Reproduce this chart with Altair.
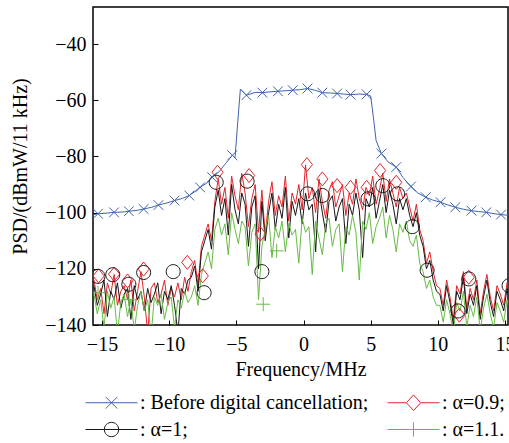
import altair as alt
import pandas as pd

# ---------------- data ----------------
S_BLUE = "Before digital cancellation;"
S_RED = "α=0.9;"
S_BLACK = "α=1;"
S_GREEN = "α=1.1."
series_names = [S_BLUE, S_RED, S_BLACK, S_GREEN]
series_colors = ["#3f63ae", "#e3242b", "#161616", "#66bb44"]

blue_x = [-15.7, -15.3, -14.7, -14.1, -13.5, -13.0, -12.4, -11.9, -11.3, -10.8,
          -10.2, -9.6, -9.0, -8.5, -8.1, -7.7, -7.2, -6.8, -6.3, -5.8,
          -5.3, -5.1, -4.9, -4.7, -4.25, -3.6, -3.06, -2.5, -1.9, -1.3,
          -0.8, -0.2, 0.3, 0.9, 1.4, 2.0, 2.5, 3.0, 3.5, 4.1,
          4.7, 5.0, 5.2, 5.4, 5.8, 6.3, 6.9, 7.4, 8.0, 8.5,
          9.1, 9.6, 10.2, 10.7, 11.3, 11.9, 12.5, 13.0, 13.6, 14.1,
          14.7, 15.4]
blue_y = [-100.8, -100.4, -100.2, -99.9, -99.8, -99.5, -99.2, -98.7, -98.1, -97.3,
          -96.6, -95.7, -94.9, -93.9, -92.5, -91, -89.5, -87.4, -85.5, -82.5,
          -79.6, -80.5, -68, -56, -58.2, -57.2, -57.3, -57, -56.8, -56.6,
          -56.4, -56.2, -55.8, -56.5, -57.3, -57.4, -57.6, -57.8, -58, -57.8,
          -57.9, -58.5, -66, -74.3, -79, -82, -83.8, -87.5, -90.7, -93,
          -94.5, -95.5, -96.3, -97.2, -98.1, -98.8, -99.3, -99.6, -99.9, -100.3,
          -100.7, -101]

# noisy spectra sampled every 0.25 MHz starting at -15.6 MHz
FREQ_START = -15.6
FREQ_STEP = 0.25

red_y = [
    -124, -131, -127, -136, -125, -129, -122, -133, -128, -126, -131, -124, -135, -128, -121,
    -130, -143, -127, -125, -132, -129, -124, -133, -127, -130, -125, -131, -123, -128,
    -121, -117, -126, -112, -108, -104, -110, -96,
    -88, -97, -91, -102, -87, -94, -99, -86,
    -93, -105, -95, -90, -107, -92, -108, -96,
    -89, -101, -94, -98, -87, -103, -93, -97,
    -90, -99, -83, -95, -91, -100, -88, -96,
    -102, -92, -89, -98, -94, -90, -101, -93,
    -97, -88, -95, -99, -91, -94, -87, -97,
    -92, -86, -96, -88, -93, -98, -91, -95,
    -93, -98, -103, -97, -106, -110, -118, -114, -121, -126,
    -127, -133, -124, -130, -138, -126, -129, -121, -134, -127, -131,
    -124, -136, -128, -122, -130, -135, -126, -129, -133, -125, -131]

black_y = [
    -126, -133, -129, -124, -137, -128, -131, -125, -134, -129, -127, -138, -126, -131, -128,
    -135, -127, -132, -129, -125, -136, -128, -131, -126, -133, -143, -127, -129, -124,
    -123, -119, -128, -114, -110, -106, -113, -98,
    -92, -101, -95, -108, -90, -99, -104, -93,
    -97, -112, -98, -94, -120, -96, -110, -100,
    -93, -106, -97, -102, -91, -109, -96, -101,
    -95, -104, -93, -99, -97, -114, -92, -100,
    -107, -96, -94, -103, -98, -95, -111, -97,
    -101, -93, -99, -116, -95, -98, -91, -102,
    -96, -90, -100, -92, -97, -104, -95, -99,
    -95, -101, -105, -100, -108, -112, -120, -117, -124, -128,
    -129, -135, -126, -132, -140, -128, -131, -123, -136, -129, -133,
    -126, -138, -130, -124, -132, -137, -128, -131, -135, -127, -133]

green_y = [
    -129, -136, -131, -141, -128, -134, -130, -143, -132, -129, -137, -131, -142, -133, -128,
    -135, -131, -144, -130, -133, -129, -138, -132, -130, -141, -131, -134, -128, -132,
    -130, -126, -133, -122, -118, -114, -120, -106,
    -102, -108, -104, -115, -100, -106, -111, -103,
    -105, -119, -107, -104, -131, -112, -106, -101,
    -116, -105, -109, -103, -114, -104, -108, -106,
    -118, -102, -107, -105, -122, -103, -109, -115,
    -104, -102, -112, -106, -104, -121, -105, -108,
    -101, -107, -124, -103, -106, -100, -111, -105,
    -102, -98, -109, -101, -106, -114, -104, -107,
    -103, -110, -112, -108, -118, -121, -127, -124, -130, -133,
    -133, -139, -131, -136, -143, -132, -135, -128, -141, -133, -137,
    -130, -142, -134, -129, -136, -141, -132, -135, -139, -131, -137]

# marker positions
blue_mx = [-15.3, -14.1, -13.0, -11.9, -10.8, -9.6, -8.5, -7.7, -6.8, -5.3,
           -4.25, -3.06, -1.9, -0.8, 0.3, 1.4, 2.5, 3.5, 4.7, 5.8,
           6.9, 8.0, 9.1, 10.2, 11.3, 12.5, 13.6, 14.7]
blue_my = [-100.4, -99.9, -99.5, -98.7, -97.3, -95.7, -93.9, -91, -87.4, -79.6,
           -58.2, -57.3, -56.8, -56.4, -55.8, -57.3, -57.6, -58, -57.9, -79,
           -83.8, -90.7, -94.5, -96.3, -98.1, -99.3, -99.9, -100.7]
red_mx = [-15.25, -14.1, -13.1, -11.9, -8.65, -7.5, -6.4, -4.05, -3.2, 0.25,
          1.4, 2.5, 3.5, 4.7, 5.7, 6.9, 11.6, 12.3]
red_my = [-122.5, -121.9, -124.3, -120.1, -117.7, -122.5, -85.6, -86.8, -107.6, -82.9,
          -88, -90.4, -91, -91, -85, -89.2, -136.5, -123]
black_mx = [-15.3, -14.2, -13.0, -11.9, -9.7, -7.4, -6.5, -4.2, -3.1, 0.3,
            1.4, 4.8, 5.9, 7.0, 8.1, 9.2, 11.5, 12.3, 15.3]
black_my = [-122.7, -122.1, -125.5, -121.3, -121, -128.5, -89.2, -88.8, -121, -93.3,
            -93.9, -95.1, -90.4, -93.3, -105, -120.5, -135, -123.6, -126]
green_mx = [-15.3, -13.0, -3.0, -2.0]
green_my = [-128.5, -131, -132.6, -113.6]

x_ticks = [-15, -10, -5, 0, 5, 10, 15]
y_ticks = [-140, -120, -100, -80, -60, -40]

# ---------------- tables ----------------
def grid_frame(vals, name):
    return pd.DataFrame({
        "f": [round(FREQ_START + FREQ_STEP * i, 2) for i in range(len(vals))],
        "psd": vals,
        "series": name,
    })

blue_df = pd.DataFrame({"f": blue_x, "psd": blue_y, "series": S_BLUE})
red_df = grid_frame(red_y, S_RED)
black_df = grid_frame(black_y, S_BLACK)
green_df = grid_frame(green_y, S_GREEN)

markers_df = pd.concat([
    pd.DataFrame({"f": red_mx, "psd": red_my, "series": S_RED}),
    pd.DataFrame({"f": black_mx, "psd": black_my, "series": S_BLACK}),
    pd.DataFrame({"f": green_mx, "psd": green_my, "series": S_GREEN}),
    pd.DataFrame({"f": blue_mx, "psd": blue_my, "series": S_BLUE}),
], ignore_index=True)

# legend-only rows, placed outside the visible domain (clipped)
legend_df = pd.DataFrame({"f": [100.0] * 4, "psd": [-100.0] * 4, "series": series_names})

# ---------------- styling ----------------
FONT = "Liberation Serif"
X_DOMAIN = [-15.67, 15.22]
Y_DOMAIN = [-140, -26.8]

marker_paths = [
    "M-0.7,-0.7L0.7,0.7M-0.7,0.7L0.7,-0.7",                 # x
    "M0,-1L0.8,0L0,1L-0.8,0Z",                              # diamond
    "M-1,0A1,1,0,1,1,1,0A1,1,0,1,1,-1,0Z",                  # circle
    "M-1,0L1,0M0,-1L0,1",                                   # plus
]
legend_paths = [
    "M-1,0L3,0M0.55,-0.45L1.45,0.45M0.55,0.45L1.45,-0.45",
    "M-1,0L0.45,0M1.55,0L3,0M1,-0.6L1.55,0L1,0.6L0.45,0Z",
    "M-1,0L3,0M0.45,0A0.55,0.55,0,1,1,1.55,0A0.55,0.55,0,1,1,0.45,0Z",
    "M-1,0L3,0M1,-0.55L1,0.55",
]

x_enc = alt.X("f:Q", scale=alt.Scale(domain=X_DOMAIN, nice=False, zero=False),
              axis=alt.Axis(values=x_ticks, domain=False, offset=-5, tickSize=5,
                            tickColor="black", tickWidth=1, grid=False,
                            labelFont=FONT, labelFontSize=20, labelColor="black",
                            labelPadding=9, labelFlush=False,
                            title="Frequency/MHz", titleFont=FONT, titleFontSize=20,
                            titleFontWeight="normal", titleColor="black", titlePadding=5))
y_enc = alt.Y("psd:Q", scale=alt.Scale(domain=Y_DOMAIN, nice=False, zero=False),
              axis=alt.Axis(values=y_ticks, domain=False, offset=-5, tickSize=5,
                            tickColor="black", tickWidth=1, grid=False,
                            labelFont=FONT, labelFontSize=20, labelColor="black",
                            labelPadding=7, labelFlush=False,
                            title="PSD/(dBmW/11 kHz)", titleFont=FONT, titleFontSize=20,
                            titleFontWeight="normal", titleColor="black", titlePadding=14))


def color_enc(legend=None):
    return alt.Color("series:N", scale=alt.Scale(domain=series_names, range=series_colors),
                     legend=legend)


def line_layer(df):
    return alt.Chart(df).mark_line(strokeWidth=1, clip=True).encode(
        x=x_enc, y=y_enc, color=color_enc())


layers = [line_layer(red_df), line_layer(black_df), line_layer(green_df), line_layer(blue_df)]

marker_layer = alt.Chart(markers_df).mark_point(filled=False, size=196, strokeWidth=1,
                                                opacity=1, clip=True).encode(
    x=x_enc, y=y_enc, color=color_enc(),
    shape=alt.Shape("series:N", scale=alt.Scale(domain=series_names, range=marker_paths),
                    legend=None))

leg = alt.Legend(orient="none", legendX=-8, legendY=382, columns=2, direction="horizontal",
                 title=None, labelFont=FONT, labelFontSize=20, labelColor="black",
                 symbolSize=676, symbolStrokeWidth=1, labelOffset=28, columnPadding=16,
                 rowPadding=3, padding=0, labelLimit=400,
                 labelExpr="': ' + datum.label")

legend_layer = alt.Chart(legend_df).mark_point(filled=False, size=196, strokeWidth=1,
                                               opacity=1, clip=True).encode(
    x=x_enc, y=y_enc, color=color_enc(leg),
    shape=alt.Shape("series:N", scale=alt.Scale(domain=series_names, range=legend_paths),
                    legend=leg))

chart = alt.layer(*layers, marker_layer, legend_layer).resolve_scale(
    color="independent", shape="independent"
).properties(
    width=415, height=318,
    autosize=alt.AutoSizeParams(type="none"),
    padding={"left": 93, "top": 7, "right": 1, "bottom": 118},
    background="white",
).configure_view(stroke="black", strokeWidth=1.5)

chart.save("out.html", embed_options={"renderer": "svg", "actions": False})
